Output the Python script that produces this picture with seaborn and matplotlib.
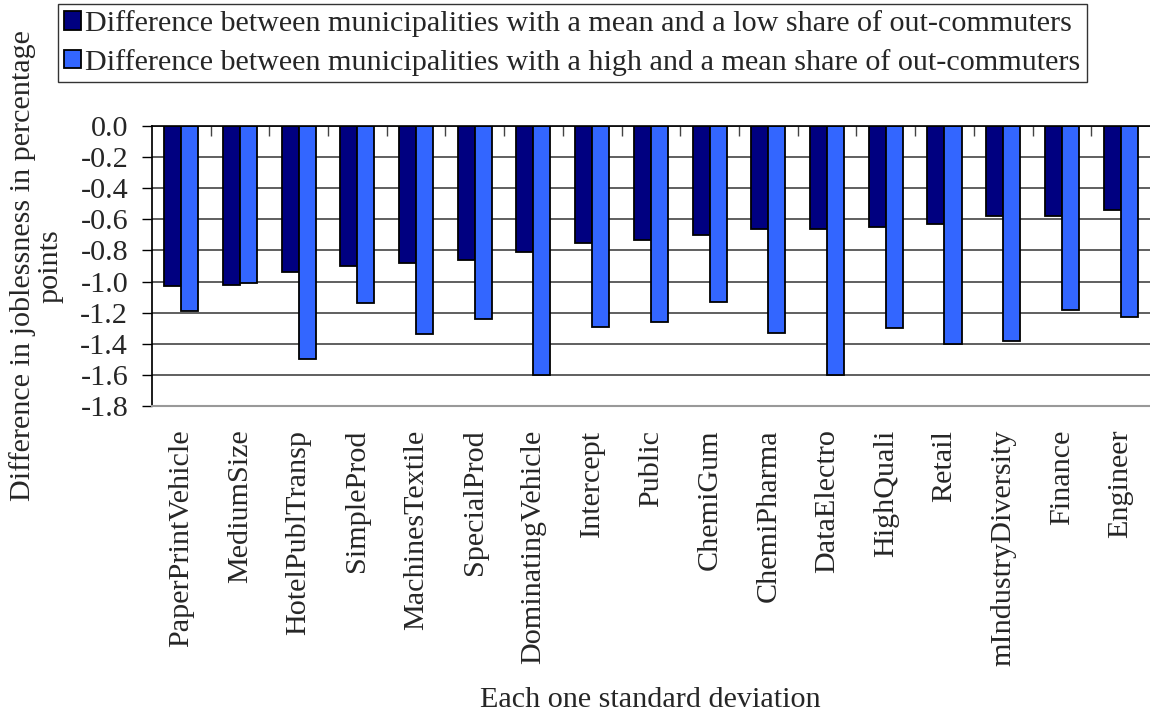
import matplotlib
matplotlib.use("Agg")
import matplotlib.pyplot as plt
from matplotlib.ticker import FixedLocator
import numpy as np
import pandas as pd
import seaborn as sns

categories = [
    "PaperPrintVehicle", "MediumSize", "HotelPublTransp", "SimpleProd",
    "MachinesTextile", "SpecialProd", "DominatingVehicle", "Intercept",
    "Public", "ChemiGum", "ChemiPharma", "DataElectro", "HighQuali",
    "Retail", "mIndustryDiversity", "Finance", "Engineer",
]
mean_vs_low = [
    -1.03, -1.02, -0.94, -0.90, -0.88, -0.86, -0.81, -0.75,
    -0.73, -0.70, -0.66, -0.66, -0.65, -0.63, -0.58, -0.58, -0.54,
]
high_vs_mean = [
    -1.19, -1.01, -1.50, -1.14, -1.34, -1.24, -1.60, -1.29,
    -1.26, -1.13, -1.33, -1.60, -1.30, -1.40, -1.38, -1.18, -1.23,
]
series_names = [
    "Difference between municipalities with a mean and a low share of out-commuters",
    "Difference between municipalities with a high and a mean share of out-commuters",
]
series_colors = ["#000080", "#3366FF"]
y_ticks = [0.0, -0.2, -0.4, -0.6, -0.8, -1.0, -1.2, -1.4, -1.6, -1.8]

df = pd.DataFrame({
    "category": categories * 2,
    "value": mean_vs_low + high_vs_mean,
    "series": [series_names[0]] * len(categories) + [series_names[1]] * len(categories),
})

sns.set_theme(style="white")
plt.rcParams["font.family"] = ["Liberation Serif", "DejaVu Serif"]
FS = 21.7

fig = plt.figure(figsize=(11.5, 7.16), dpi=100)
ax = fig.add_axes([0.132, 0.433, 0.868, 0.391])

sns.barplot(
    data=df, x="category", y="value", hue="series",
    palette=series_colors, order=categories, hue_order=series_names,
    width=0.58, edgecolor="black", linewidth=1.3, ax=ax, legend=True,
    errorbar=None, saturation=1,
)

ax.set_ylim(-1.8, 0.0)
ax.set_xlim(-0.5, len(categories) - 0.5)
ax.set_yticks(y_ticks)
ax.set_yticklabels([f"{t:.1f}" for t in y_ticks], fontsize=FS)
ax.yaxis.grid(True, color="#444444", linewidth=1.2)
ax.set_axisbelow(True)

# category boundaries marked from the zero line
ax.xaxis.set_minor_locator(FixedLocator(np.arange(0.5, len(categories) - 0.5, 1)))
ax.tick_params(axis="x", which="minor", top=True, bottom=False, direction="in",
               length=7, width=1, color="#444444")
ax.tick_params(axis="x", which="major", bottom=False, length=0, pad=17)
ax.tick_params(axis="y", which="major", left=True, direction="out",
               length=7, width=1, color="black", pad=10)
ax.set_xticks(range(len(categories)))
ax.set_xticklabels(categories, rotation=90, fontsize=FS, va="top")

ax.spines["right"].set_visible(False)
ax.spines["left"].set_color("black")
ax.spines["top"].set_color("black")
ax.spines["top"].set_linewidth(1.2)
ax.spines["bottom"].set_color("#999999")
ax.spines["bottom"].set_linewidth(1.5)

ax.set_xlabel("Each one standard deviation", fontsize=FS)
ax.xaxis.set_label_coords(0.499, -1.005)
ax.set_ylabel("Difference in joblessness in percentage\npoints", fontsize=FS,
              linespacing=1.1)
ax.yaxis.set_label_coords(-0.088, 0.5)

handles, labels = ax.get_legend_handles_labels()
ax.get_legend().remove()
leg = fig.legend(
    handles, labels, loc="upper left", bbox_to_anchor=(0.05, 0.995),
    fontsize=FS, frameon=True, fancybox=False, edgecolor="black",
    handlelength=0.55, handleheight=0.55, handletextpad=0.15,
    borderpad=0.22, labelspacing=0.38, borderaxespad=0,
)
leg.get_frame().set_linewidth(1.0)

fig.savefig("out.png", dpi=100)
